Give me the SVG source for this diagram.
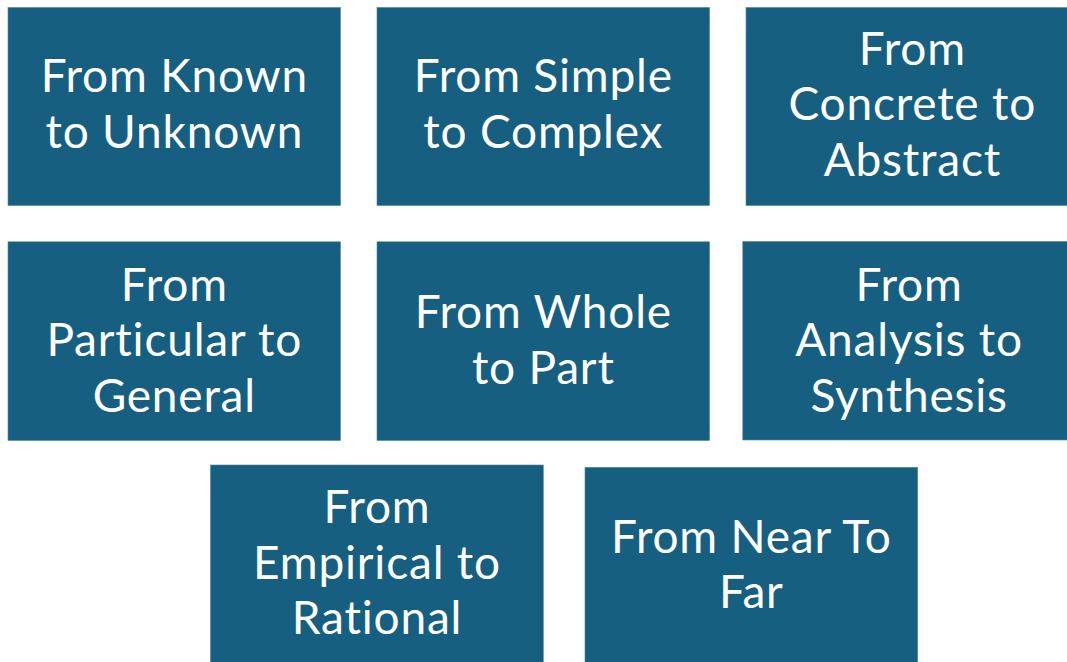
<svg xmlns="http://www.w3.org/2000/svg" width="1067" height="662" viewBox="0 0 1067 662">
<style>
.box{fill:#175f80;stroke:#4d86a3;stroke-width:0.6}
.t{font-family:Lato,"Open Sans","Liberation Sans",sans-serif;font-size:46px;letter-spacing:0.8px;fill:#ffffff;text-anchor:middle}
</style>
<rect width="1067" height="662" fill="#ffffff"/>
<g id="connectors"/>
<g id="n1"><rect class="box" x="8" y="7.5" width="332.5" height="198"/><text class="t" x="174.3"><tspan x="174.3" y="92">From Known</tspan><tspan x="174.3" y="147.5">to Unknown</tspan></text></g>
<g id="n2"><rect class="box" x="377" y="7.5" width="332.5" height="198"/><text class="t"><tspan x="543.3" y="92">From Simple</tspan><tspan x="543.3" y="147.5">to Complex</tspan></text></g>
<g id="n3"><rect class="box" x="746" y="7.5" width="332.5" height="198"/><text class="t"><tspan x="912.3" y="64.5">From</tspan><tspan x="912.3" y="120">Concrete to</tspan><tspan x="912.3" y="175.5">Abstract</tspan></text></g>
<g id="n4"><rect class="box" x="8" y="241.8" width="332.5" height="198.7"/><text class="t"><tspan x="174.3" y="300.5">From</tspan><tspan x="174.3" y="356">Particular to</tspan><tspan x="174.3" y="411.5">General</tspan></text></g>
<g id="n5"><rect class="box" x="377" y="241.8" width="332.5" height="198.7"/><text class="t"><tspan x="543.3" y="328">From Whole</tspan><tspan x="543.3" y="383.5">to Part</tspan></text></g>
<g id="n6"><rect class="box" x="742.8" y="241.5" width="332.5" height="198.5"/><text class="t"><tspan x="909.1" y="300.5">From</tspan><tspan x="909.1" y="356">Analysis to</tspan><tspan x="909.1" y="411.5">Synthesis</tspan></text></g>
<g id="n7"><rect class="box" x="210.5" y="465" width="332.8" height="198"/><text class="t"><tspan x="377" y="523">From</tspan><tspan x="377" y="578.5">Empirical to</tspan><tspan x="377" y="634">Rational</tspan></text></g>
<g id="n8"><rect class="box" x="585" y="467.3" width="332.7" height="197"/><text class="t"><tspan x="751.3" y="552.5">From Near To</tspan><tspan x="751.3" y="608">Far</tspan></text></g>
</svg>
